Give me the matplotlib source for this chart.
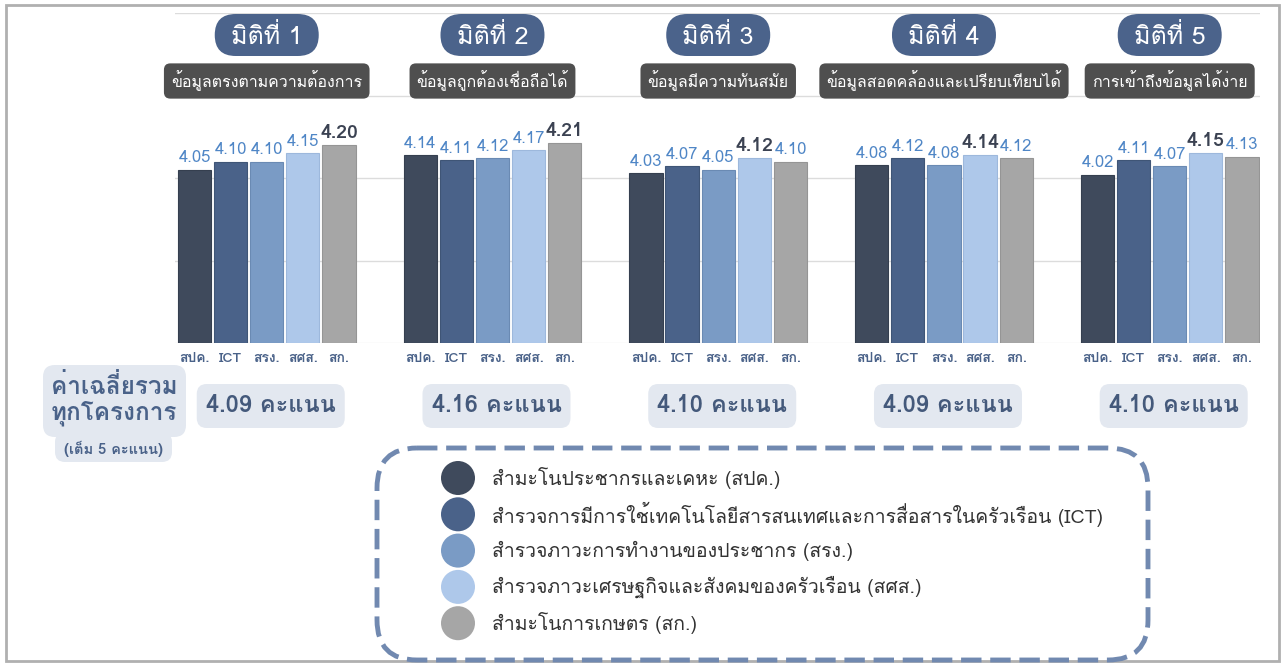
import matplotlib
matplotlib.use("Agg")
import matplotlib.pyplot as plt
from matplotlib import font_manager
from matplotlib.ft2font import FT2Font
from matplotlib.patches import FancyBboxPatch, Circle

# pick any installed font that has Thai glyphs, fall back to DejaVu
thai_fonts = []
for f in font_manager.fontManager.ttflist:
    try:
        if ord("ก") in FT2Font(f.fname).get_charmap() and f.name not in thai_fonts:
            thai_fonts.append(f.name)
    except Exception:
        pass
plt.rcParams["font.family"] = thai_fonts + ["DejaVu Sans"]

dimensions = ["มิติที่ 1", "มิติที่ 2", "มิติที่ 3", "มิติที่ 4", "มิติที่ 5"]
subtitles = ["ข้อมูลตรงตามความต้องการ", "ข้อมูลถูกต้องเชื่อถือได้", "ข้อมูลมีความทันสมัย",
             "ข้อมูลสอดคล้องและเปรียบเทียบได้", "การเข้าถึงข้อมูลได้ง่าย"]
projects = ["สปค.", "ICT", "สรง.", "สศส.", "สก."]
legend_labels = ["สำมะโนประชากรและเคหะ (สปค.)",
                 "สำรวจการมีการใช้เทคโนโลยีสารสนเทศและการสื่อสารในครัวเรือน (ICT)",
                 "สำรวจภาวะการทำงานของประชากร (สรง.)",
                 "สำรวจภาวะเศรษฐกิจและสังคมของครัวเรือน (สศส.)",
                 "สำมะโนการเกษตร (สก.)"]
scores = [
    [4.05, 4.10, 4.10, 4.15, 4.20],
    [4.14, 4.11, 4.12, 4.17, 4.21],
    [4.03, 4.07, 4.05, 4.12, 4.10],
    [4.08, 4.12, 4.08, 4.14, 4.12],
    [4.02, 4.11, 4.07, 4.15, 4.13],
]
averages = [4.09, 4.16, 4.10, 4.09, 4.10]

colors = ["#3f4a5c", "#4a6289", "#7a9bc5", "#aec8ea", "#a6a6a6"]
edge_colors = ["#353f4f", "#3f5576", "#6a8ab3", "#9db8dc", "#959595"]
W, H = 1285, 666
group_step = 6.25

fig = plt.figure(figsize=(W / 100, H / 100), dpi=100)
fig.patch.set_facecolor("white")

# bar axes (y from 3 to 5)
ax = fig.add_axes([175 / W, 1 - 343 / H, (1260 - 175) / W, (343 - 13) / H])
xs, labels = [], []
for g, vals in enumerate(scores):
    top = max(vals)
    for j, v in enumerate(vals):
        x = g * group_step + j
        ax.bar(x, v - 3, bottom=3, width=0.92, color=colors[j], edgecolor=edge_colors[j],
               linewidth=0.8, zorder=3)
        if v == top:
            ax.text(x, v + 0.018, f"{v:.2f}", ha="center", va="bottom", fontsize=14,
                    fontweight="bold", color="#3b4252", zorder=4)
        else:
            ax.text(x, v + 0.02, f"{v:.2f}", ha="center", va="bottom", fontsize=12,
                    color="#4f86c6", zorder=4)
        xs.append(x)
        labels.append(projects[j])
ax.set_xlim(-0.54, 4 * group_step + 4.5)
ax.set_ylim(3, 5)
ax.set_xticks(xs)
ax.set_xticklabels(labels, fontsize=10, fontweight="bold", color="#4a6289")
ax.tick_params(axis="x", length=0, pad=7)
ax.set_yticks([3.5, 4.0, 4.5, 5.0])
ax.tick_params(axis="y", length=0, labelleft=False)
ax.grid(axis="y", color="#dcdcdc", linewidth=1, zorder=0)
ax.axhline(3, color="#eeeeee", linewidth=1, zorder=1)
for s in ax.spines.values():
    s.set_visible(False)

# overlay in pixel coordinates for all the decorations
ov = fig.add_axes([0, 0, 1, 1], zorder=5)
ov.set_xlim(0, W)
ov.set_ylim(H, 0)
ov.axis("off")
ov.patch.set_alpha(0)

ov.add_patch(FancyBboxPatch((6, 5), W - 12, H - 10, boxstyle="square,pad=0",
                            fill=False, edgecolor="#b0b0b0", linewidth=2))

for g in range(5):
    gc = 175 + (g * group_step + 2 + 0.54) * (1260 - 175) / (4 * group_step + 4.5 + 0.54)
    # dimension pill
    ov.add_patch(FancyBboxPatch((gc - 52, 14), 104, 42,
                                boxstyle="round,pad=0,rounding_size=21",
                                facecolor="#4b638b", edgecolor="none"))
    ov.text(gc, 36, dimensions[g], ha="center", va="center", fontsize=18, color="white")
    # subtitle
    ov.text(gc, 81, subtitles[g], ha="center", va="center", fontsize=11.5, color="white",
            bbox=dict(boxstyle="round,pad=0.45,rounding_size=0.4", facecolor="#4f4f4f",
                      edgecolor="none"))
    # average box
    bc = gc + 4
    ov.add_patch(FancyBboxPatch((bc - 74, 384), 148, 44,
                                boxstyle="round,pad=0,rounding_size=10",
                                facecolor="#e3e8f0", edgecolor="none"))
    ov.text(bc, 406, f"{averages[g]:.2f} คะแนน", ha="center", va="center", fontsize=17,
            fontweight="bold", color="#44597b")

# left label
ov.add_patch(FancyBboxPatch((43, 365), 143, 72, boxstyle="round,pad=0,rounding_size=12",
                            facecolor="#e3e8f0", edgecolor="none"))
ov.add_patch(FancyBboxPatch((55, 432), 117, 30, boxstyle="round,pad=0,rounding_size=10",
                            facecolor="#e3e8f0", edgecolor="none"))
ov.text(114, 400, "ค่าเฉลี่ยรวม\nทุกโครงการ", ha="center", va="center", fontsize=17.5,
        fontweight="bold", color="#4a6289", linespacing=1.05)
ov.text(113, 449, "(เต็ม 5 คะแนน)", ha="center", va="center", fontsize=10.5,
        fontweight="bold", color="#4a6289")

# legend
ov.add_patch(FancyBboxPatch((377, 448), 771, 212, boxstyle="round,pad=0,rounding_size=40",
                            fill=False, edgecolor="#7189b0", linewidth=3.5,
                            linestyle=(0, (4.2, 1.8))))
for i, lab in enumerate(legend_labels):
    cy = 478 + i * 36.3
    ov.add_patch(Circle((458, cy), 17, facecolor=colors[i], edgecolor="none"))
    ov.text(492, cy, lab, ha="left", va="center", fontsize=14, color="#333333")

fig.savefig("out.png", dpi=100)
